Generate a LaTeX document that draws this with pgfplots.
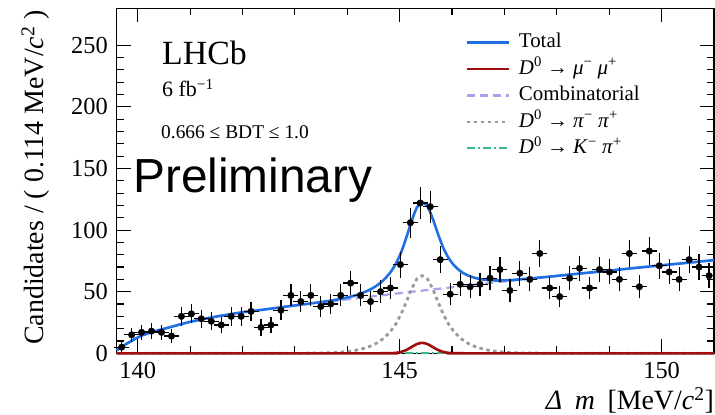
\documentclass[border=0pt]{standalone}
\usepackage{fontspec}
\setmainfont{Liberation Serif}
\newfontfamily\prelimfont{Liberation Sans}
\usepackage{pgfplots}
\pgfplotsset{compat=1.18}
\definecolor{totblue}{HTML}{1F6FE5}
\definecolor{sigred}{HTML}{A00D0D}
\definecolor{comblue}{HTML}{A3A3F0}
\definecolor{pipigray}{HTML}{9A9A9A}
\definecolor{kpigreen}{HTML}{3CB88C}

% binned data: centre, count, half bin, error
\pgfplotstableread{
x y ex ey
139.695 5 0.095 2.24
139.885 15 0.095 3.87
140.075 17 0.095 4.12
140.265 18 0.095 4.24
140.455 17 0.095 4.12
140.645 14 0.095 3.74
140.835 30 0.095 5.48
141.025 32 0.095 5.66
141.215 28 0.095 5.29
141.405 26 0.095 5.10
141.595 23 0.095 4.80
141.785 30 0.095 5.48
141.975 30 0.095 5.48
142.165 34 0.095 5.83
142.355 21 0.095 4.58
142.545 23 0.095 4.80
142.735 35 0.095 5.92
142.925 47 0.095 6.86
143.115 42 0.095 6.48
143.305 47 0.095 6.86
143.495 38 0.095 6.16
143.685 40 0.095 6.32
143.875 47 0.095 6.86
144.065 57 0.095 7.55
144.255 47 0.095 6.86
144.445 42 0.095 6.48
144.635 50 0.095 7.07
144.825 53 0.095 7.28
145.015 72 0.095 8.49
145.205 106 0.095 10.30
145.395 122 0.095 11.05
145.585 119 0.095 10.91
145.775 76 0.095 8.72
145.965 48 0.095 6.93
146.155 56 0.095 7.48
146.345 54 0.095 7.35
146.535 56 0.095 7.48
146.725 61 0.095 7.81
146.915 68 0.095 8.25
147.105 51 0.095 7.14
147.295 65 0.095 8.06
147.485 60 0.095 7.75
147.675 81 0.095 9.00
147.865 53 0.095 7.28
148.055 46 0.095 6.78
148.245 61 0.095 7.81
148.435 69 0.095 8.31
148.625 53 0.095 7.28
148.815 68 0.095 8.25
149.005 66 0.095 8.12
149.195 60 0.095 7.75
149.385 81 0.095 9.00
149.575 54 0.095 7.35
149.765 83 0.095 9.11
149.955 71 0.095 8.43
150.145 66 0.095 8.12
150.335 60 0.095 7.75
150.525 76 0.095 8.72
150.715 70 0.095 8.37
150.905 63 0.095 7.94
}\datatable

\begin{document}
\begin{tikzpicture}
\useasboundingbox (-116.7bp,-61.7bp) rectangle (598.3bp,353.3bp);
\begin{axis}[
  at={(0,0)}, anchor=south west,
  scale only axis, width=597.3bp, height=345bp,
  xmin=139.6, xmax=151.0, ymin=0, ymax=280,
  xtick={140,145,150}, minor x tick num=4,
  ytick={0,50,100,150,200,250}, minor y tick num=4,
  major tick length=14bp, minor tick length=7bp,
  tick style={black, line width=1.1bp},
  axis line style={line width=1.3bp},
  tick label style={font=\fontsize{24.5}{28}\selectfont, inner sep=0pt},
  /pgf/number format/assume math mode=true,
  xticklabel style={yshift=-9bp},
  yticklabel style={xshift=-8.7bp},
  clip=false,
  legend cell align=left,
  legend style={at={(rel axis cs:0.583,0.932)}, anchor=north west,
    draw=none, fill=none, inner sep=0pt, row sep=5.5bp,
    font=\fontsize{21}{21}\selectfont,
    nodes={inner sep=0pt, text height=16bp, text depth=5bp},
    /tikz/every odd column/.append style={column sep=9bp}},
  legend image code/.code={\draw[#1] (0bp,0bp) -- (42bp,0bp);},
]
\addplot[forget plot, comblue, line width=2.2bp, dash pattern=on 8bp off 5bp] coordinates {
(139.60,2.5) (139.65,3.8) (139.70,5.2) (139.80,8.0) (139.90,10.5) (140.00,12.8)
(140.10,14.8) (140.25,16.8) (140.40,18.8) (140.60,21.0) (140.80,23.3) (141.00,25.5)
(141.25,27.8) (141.50,29.8) (141.75,31.6) (142.00,33.3) (142.50,36.0) (143.00,38.8)
(143.50,41.3) (144.00,43.8) (144.50,46.3) (145.00,48.8) (145.50,51.2) (146.00,53.6)
(146.50,56.0) (147.00,58.3) (147.50,60.6) (148.00,62.8) (148.50,65.0) (149.00,67.1)
(149.50,69.3) (150.00,71.4) (150.50,73.5) (151.00,75.6)};
\addplot[forget plot, kpigreen, line width=2bp, dash pattern=on 8bp off 3bp on 2bp off 3bp] coordinates {
(139.6,0) (151.0,0)};
\addplot[forget plot, pipigray, line width=2.8bp, dash pattern=on 3.5bp off 3.5bp] coordinates {
(139.6,0) (143.03,0.05) (143.43,0.2) (143.63,0.4) (143.83,0.8) (144.03,1.6) (144.13,2.2)
(144.23,3.1) (144.33,4.2) (144.43,5.6) (144.53,7.5) (144.63,10) (144.73,13.5) (144.83,18)
(144.93,24) (145.03,32) (145.13,42) (145.23,52.5) (145.33,60.5) (145.43,63) (145.53,60.5)
(145.63,52.5) (145.73,42) (145.83,32) (145.93,24) (146.03,18) (146.13,13.5) (146.23,10)
(146.33,7.5) (146.43,5.6) (146.53,4.2) (146.63,3.1) (146.73,2.2) (146.83,1.6) (147.03,0.8)
(147.23,0.4) (147.43,0.2) (147.83,0.05) (151.0,0)};
\addplot[forget plot, sigred, line width=2.6bp, smooth] coordinates {
(139.6,0) (144.63,0) (144.73,0.02) (144.83,0.1) (144.93,0.37) (145.03,1.15) (145.13,2.75)
(145.23,5.16) (145.33,7.5) (145.43,8.5) (145.53,7.5) (145.63,5.16) (145.73,2.75)
(145.83,1.15) (145.93,0.37) (146.03,0.1) (146.13,0.02) (146.23,0) (151.0,0)};
\addplot[forget plot, totblue, line width=2.6bp, smooth, tension=0.4] coordinates {
(139.60,2.5) (139.65,3.8) (139.70,5.2) (139.80,8.0) (139.90,10.5) (140.00,12.8)
(140.10,14.8) (140.25,16.8) (140.40,18.8) (140.60,21.0) (140.80,23.3) (141.00,25.5)
(141.25,27.8) (141.50,29.8) (141.75,31.6) (142.00,33.3) (142.43,35.6) (143.03,39.0)
(143.43,41.2) (143.63,42.4) (143.83,43.8) (144.03,45.6) (144.13,46.7) (144.23,48.1)
(144.33,49.7) (144.43,51.6) (144.53,54.0) (144.63,57.0) (144.73,61.0) (144.83,66.1)
(144.93,72.8) (145.03,82.1) (145.13,94.2) (145.23,107.6) (145.33,118.4) (145.43,122.4)
(145.53,119.3) (145.63,109.5) (145.73,97.1) (145.83,85.9) (145.93,77.6) (146.03,71.8)
(146.13,67.7) (146.23,64.7) (146.33,62.7) (146.43,61.3) (146.53,60.3) (146.63,59.7)
(146.73,59.3) (146.83,59.1) (147.03,59.2) (147.23,59.8) (147.43,60.5) (147.83,62.1)
(148.43,64.7) (149.00,67.1) (149.50,69.3) (150.00,71.4) (150.50,73.5) (151.00,75.6)};
\addplot[forget plot, only marks, black, mark=*, mark size=3.3bp,
  error bars/.cd, x dir=both, x explicit, y dir=both, y explicit,
  error bar style={line width=1.2bp, black},
  error mark options={line width=1.2bp, mark size=2.5bp, black}]
  table[x=x, y=y, x error=ex, y error=ey] {\datatable};
\addlegendimage{totblue, line width=2.6bp}
\addlegendentry{Total}
\addlegendimage{sigred, line width=2.6bp}
\addlegendentry{\textit{D}\textsuperscript{0} → \textit{μ}\textsuperscript{−} \textit{μ}\textsuperscript{+}}
\addlegendimage{comblue, line width=2.2bp, dash pattern=on 8bp off 5bp}
\addlegendentry{Combinatorial}
\addlegendimage{pipigray, line width=2.8bp, dash pattern=on 3.5bp off 3.5bp}
\addlegendentry{\textit{D}\textsuperscript{0} → \textit{π}\textsuperscript{−} \textit{π}\textsuperscript{+}}
\addlegendimage{kpigreen, line width=2bp, dash pattern=on 8bp off 3bp on 2bp off 3bp}
\addlegendentry{\textit{D}\textsuperscript{0} → \textit{K}\textsuperscript{−} \textit{π}\textsuperscript{+}}
\end{axis}
\node[rotate=90, anchor=south east, inner sep=0pt, font=\fontsize{28}{28}\selectfont]
  at (-67.2bp,343.3bp) {Candidates / ( 0.114 MeV/\textit{c}\textsuperscript{2} )};
\node[anchor=base east, inner sep=0pt, font=\fontsize{28}{28}\selectfont]
  at (597.3bp,-56.2bp) {\textit{Δ\hspace{0.45em}m}\hspace{0.45em}[MeV/\textit{c}\textsuperscript{2}]};
\node[anchor=base west, inner sep=0pt, font=\fontsize{34}{34}\selectfont]
  at (45.3bp,288.3bp) {LHCb};
\node[anchor=base west, inner sep=0pt, font=\fontsize{22}{22}\selectfont]
  at (45.3bp,256.6bp) {6 fb\textsuperscript{−1}};
\node[anchor=base west, inner sep=0pt, font=\fontsize{19.5}{19.5}\selectfont]
  at (44.3bp,214.3bp) {0.666 ≤ BDT ≤ 1.0};
\node[anchor=base west, inner sep=0pt, font=\prelimfont\fontsize{48}{48}\selectfont]
  at (16.3bp,160.3bp) {Preliminary};
\end{tikzpicture}
\end{document}
